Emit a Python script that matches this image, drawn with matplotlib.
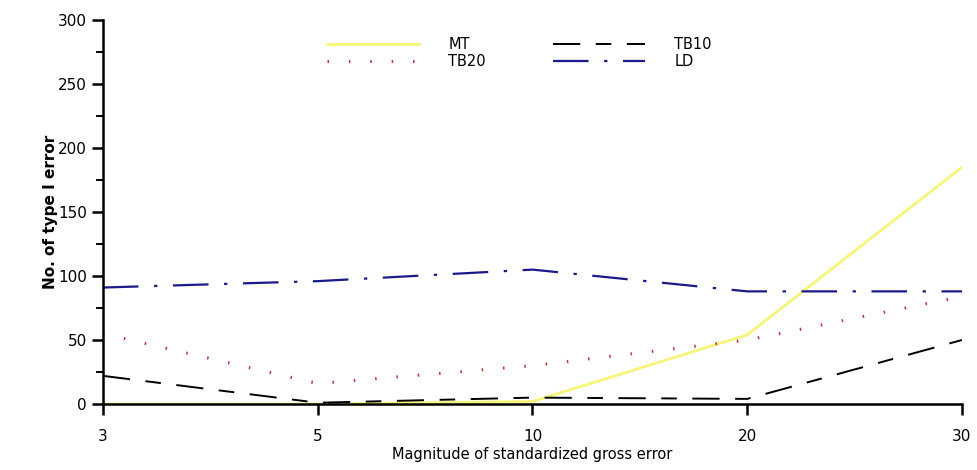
import matplotlib.pyplot as plt
from matplotlib.ticker import MultipleLocator

# Magnitude of standardized gross error (categories, evenly spaced)
magnitudes = ['3', '5', '10', '20', '30']

# No. of type I error per method
mt = [0, 0, 2, 54, 185]
tb10 = [22, 1, 5, 4, 50]
tb20 = [55, 16, 30, 50, 84]
ld = [91, 96, 105, 88, 88]

x = list(range(len(magnitudes)))

fig = plt.figure(figsize=(9.78, 4.70), dpi=100)
ax = fig.add_axes([0.1053, 0.1404, 0.8783, 0.8170])

ax.plot(x, mt, color='#f5f57a', lw=2, label='MT')
ax.plot(x, tb20, color='#c03838', lw=2.2, linestyle=(0, (0.5, 6.5)), label='TB20')
ax.plot(x, tb10, color='black', lw=1.4, linestyle=(0, (14, 8, 8, 8)), label='TB10')
ax.plot(x, ld, color='#1a1a8c', lw=1.6, linestyle=(0, (16, 7, 1.5, 7)), label='LD')

ax.set_xlim(0, 4)
ax.set_ylim(0, 300)
ax.set_xticks(x)
ax.set_xticklabels(magnitudes)
ax.yaxis.set_major_locator(MultipleLocator(50))
ax.yaxis.set_minor_locator(MultipleLocator(25))

for s in ['top', 'right']:
    ax.spines[s].set_visible(False)
for s in ['left', 'bottom']:
    ax.spines[s].set_linewidth(1.8)

ax.tick_params(axis='both', which='major', length=8, width=1.8, labelsize=11, direction='out')
ax.tick_params(axis='y', which='minor', length=5, width=1.4)
ax.tick_params(axis='x', pad=10)

ax.set_ylabel('No. of type I error', fontsize=11, fontweight='heavy', labelpad=0)
ax.set_xlabel('Magnitude of standardized gross error', fontsize=10.5, labelpad=2)

ax.legend(ncol=2, frameon=False, loc='upper center', bbox_to_anchor=(0.485, 0.99),
          handlelength=6.3, handletextpad=2.0, columnspacing=4.6,
          fontsize=10.5, labelspacing=0.15)

plt.savefig('out.png', dpi=100)
